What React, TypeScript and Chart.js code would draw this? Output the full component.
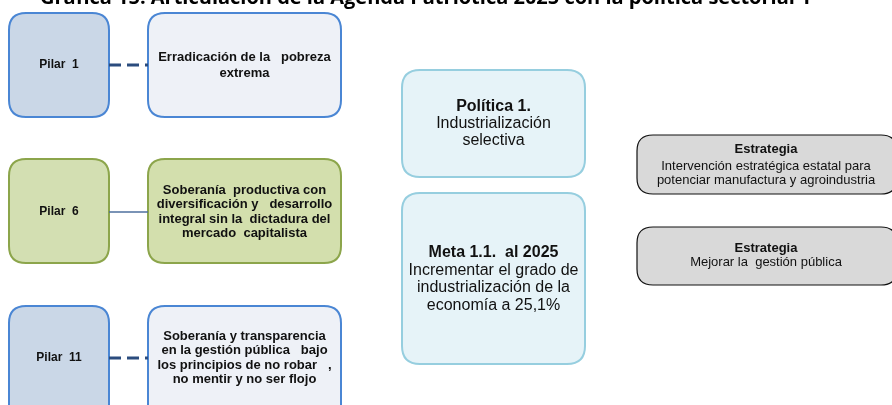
import React, { useEffect, useRef } from "react";
import { Chart, registerables } from "chart.js";

Chart.register(...registerables);

// ---- content ----
const titleText = "Gráfica 15. Articulación de la Agenda Patriótica 2025 con la política sectorial 1";
const pillarLabels = ["Pilar  1", "Pilar  6", "Pilar  11"];
const pillarTexts: string[][] = [
  ["Erradicación de la   pobreza", "extrema"],
  ["Soberanía  productiva con", "diversificación y   desarrollo", "integral sin la  dictadura del", "mercado  capitalista"],
  ["Soberanía y transparencia", "en la gestión pública   bajo", "los principios de no robar   ,", "no mentir y no ser flojo"],
];
const connectorStyles = ["dashed", "solid", "dashed"];
const policyTitle = "Política 1.";
const policyLines = ["Industrialización", "selectiva"];
const goalTitle = "Meta 1.1.  al 2025";
const goalLines = ["Incrementar el grado de", "industrialización de la", "economía a 25,1%"];
const strategyTitles = ["Estrategia", "Estrategia"];
const strategyLines: string[][] = [
  ["Intervención estratégica estatal para", "potenciar manufactura y agroindustria"],
  ["Mejorar la  gestión pública"],
];

// ---- layout (data units of a 892 x 405 canvas space) ----
const W = 892;
const H = 405;
const pillarRows = [
  { top: 13, bottom: 117, mid: 65, textMid: 65, lh: 16 },
  { top: 159, bottom: 263, mid: 212, textMid: 212, lh: 14.2 },
  { top: 306, bottom: 425, mid: 358, textMid: 358, lh: 14.2 },
];
const pillarX = { left: 9, right: 109 };
const textX = { left: 148, right: 341 };
const policyBox = { left: 402, right: 585, top: 70, bottom: 177 };
const goalBox = { left: 402, right: 585, top: 193, bottom: 364 };
const strategyBoxes = [
  { left: 637, right: 897, top: 135, bottom: 194, ys: [149.5, 166, 180] },
  { left: 637, right: 897, top: 227, bottom: 285, ys: [248, 262.5] },
];

const FONT = "'Liberation Sans', Arial, sans-serif";

function roundRect(ctx: CanvasRenderingContext2D, x: number, y: number, w: number, h: number, r: number) {
  ctx.beginPath();
  ctx.moveTo(x + r, y);
  ctx.lineTo(x + w - r, y);
  ctx.quadraticCurveTo(x + w, y, x + w, y + r);
  ctx.lineTo(x + w, y + h - r);
  ctx.quadraticCurveTo(x + w, y + h, x + w - r, y + h);
  ctx.lineTo(x + r, y + h);
  ctx.quadraticCurveTo(x, y + h, x, y + h - r);
  ctx.lineTo(x, y + r);
  ctx.quadraticCurveTo(x, y, x + r, y);
  ctx.closePath();
}

const diagramPlugin = {
  id: "diagram",
  beforeDatasetsDraw(chart: any) {
    const { ctx } = chart;
    const sx = chart.scales.x;
    const sy = chart.scales.y;
    const box = (b: any, fill: string, stroke: string, lw: number, r: number) => {
      const x0 = sx.getPixelForValue(b.left);
      const x1 = sx.getPixelForValue(b.right);
      const y0 = sy.getPixelForValue(b.top);
      const y1 = sy.getPixelForValue(b.bottom);
      ctx.save();
      roundRect(ctx, x0, y0, x1 - x0, y1 - y0, r);
      ctx.fillStyle = fill;
      ctx.fill();
      ctx.lineWidth = lw;
      ctx.strokeStyle = stroke;
      ctx.stroke();
      ctx.restore();
    };
    pillarRows.forEach((row, i) => {
      const green = i === 1;
      box({ ...pillarX, top: row.top, bottom: row.bottom },
        green ? "#D3DFB2" : "#CAD7E7", green ? "#8CA54B" : "#4A86D4", 2, 17);
      box({ ...textX, top: row.top, bottom: row.bottom },
        green ? "#D3DFAD" : "#EEF1F7", green ? "#8CA54B" : "#4A86D4", 2, 17);
    });
    box(policyBox, "#E6F3F8", "#96CEDF", 2, 18);
    box(goalBox, "#E6F3F8", "#96CEDF", 2, 18);
    strategyBoxes.forEach((b) => box(b, "#D9D9D9", "#111111", 1.2, 16));
  },
  afterDatasetsDraw(chart: any) {
    const { ctx } = chart;
    const sx = chart.scales.x;
    const sy = chart.scales.y;
    const text = (cx: number, cy: number, t: string, bold: boolean, size: number) => {
      ctx.save();
      ctx.fillStyle = "#111111";
      ctx.textAlign = "center";
      ctx.textBaseline = "middle";
      ctx.font = `${bold ? "bold " : ""}${size}px ${FONT}`;
      ctx.fillText(t, sx.getPixelForValue(cx), sy.getPixelForValue(cy));
      ctx.restore();
    };
    const lines = (cx: number, cy: number, items: { t: string; bold: boolean }[], size: number, lh: number) => {
      const n = items.length;
      items.forEach((it, k) => text(cx, cy + (k - (n - 1) / 2) * lh, it.t, it.bold, size));
    };
    // title (clipped at the top of the picture)
    ctx.save();
    ctx.fillStyle = "#000000";
    ctx.textAlign = "left";
    ctx.textBaseline = "alphabetic";
    ctx.font = `bold 20px 'Open Sans', ${FONT}`;
    ctx.fillText(titleText, sx.getPixelForValue(40), sy.getPixelForValue(4), 833);
    ctx.restore();

    const pcx = (pillarX.left + pillarX.right) / 2;
    const tcx = (textX.left + textX.right) / 2;
    pillarRows.forEach((row, i) => {
      text(pcx, row.mid, pillarLabels[i], true, 12);
      lines(tcx, row.textMid, pillarTexts[i].map((t) => ({ t, bold: true })), 13, row.lh);
    });
    const ccx = (policyBox.left + policyBox.right) / 2;
    lines(ccx, 124, [{ t: policyTitle, bold: true }, ...policyLines.map((t) => ({ t, bold: false }))], 16, 17);
    lines(ccx, 279, [{ t: goalTitle, bold: true }, ...goalLines.map((t) => ({ t, bold: false }))], 16, 17.4);
    const scx = 766;
    strategyBoxes.forEach((b, i) => {
      text(scx, b.ys[0], strategyTitles[i], true, 13);
      strategyLines[i].forEach((t, k) => text(scx, b.ys[k + 1], t, false, 13));
    });
  },
};

export default function App() {
  const ref = useRef<HTMLCanvasElement | null>(null);
  useEffect(() => {
    document.body.style.margin = "0";
    const canvas = ref.current!;
    const datasets = pillarRows.map((row, i) => ({
      type: "line" as const,
      data: [
        { x: pillarX.right, y: row.mid },
        { x: textX.left, y: row.mid },
      ],
      borderColor: connectorStyles[i] === "dashed" ? "#2B4C7E" : "#4E6F9E",
      borderWidth: connectorStyles[i] === "dashed" ? 3 : 1.5,
      borderDash: connectorStyles[i] === "dashed" ? [12, 6] : [],
      pointRadius: 0,
      fill: false,
    }));
    const chart = new Chart(canvas, {
      type: "scatter",
      data: { datasets },
      options: {
        animation: false,
        responsive: false,
        devicePixelRatio: 1,
        layout: { padding: 0 },
        plugins: { legend: { display: false }, tooltip: { enabled: false }, title: { display: false } },
        scales: {
          x: { type: "linear", min: 0, max: W, display: false },
          y: { type: "linear", min: 0, max: H, reverse: true, display: false },
        },
      },
      plugins: [diagramPlugin],
    } as any);
    return () => chart.destroy();
  }, []);
  return (
    <div style={{ width: W, height: H, background: "#ffffff" }}>
      <canvas ref={ref} width={W} height={H} style={{ display: "block" }} />
    </div>
  );
}
